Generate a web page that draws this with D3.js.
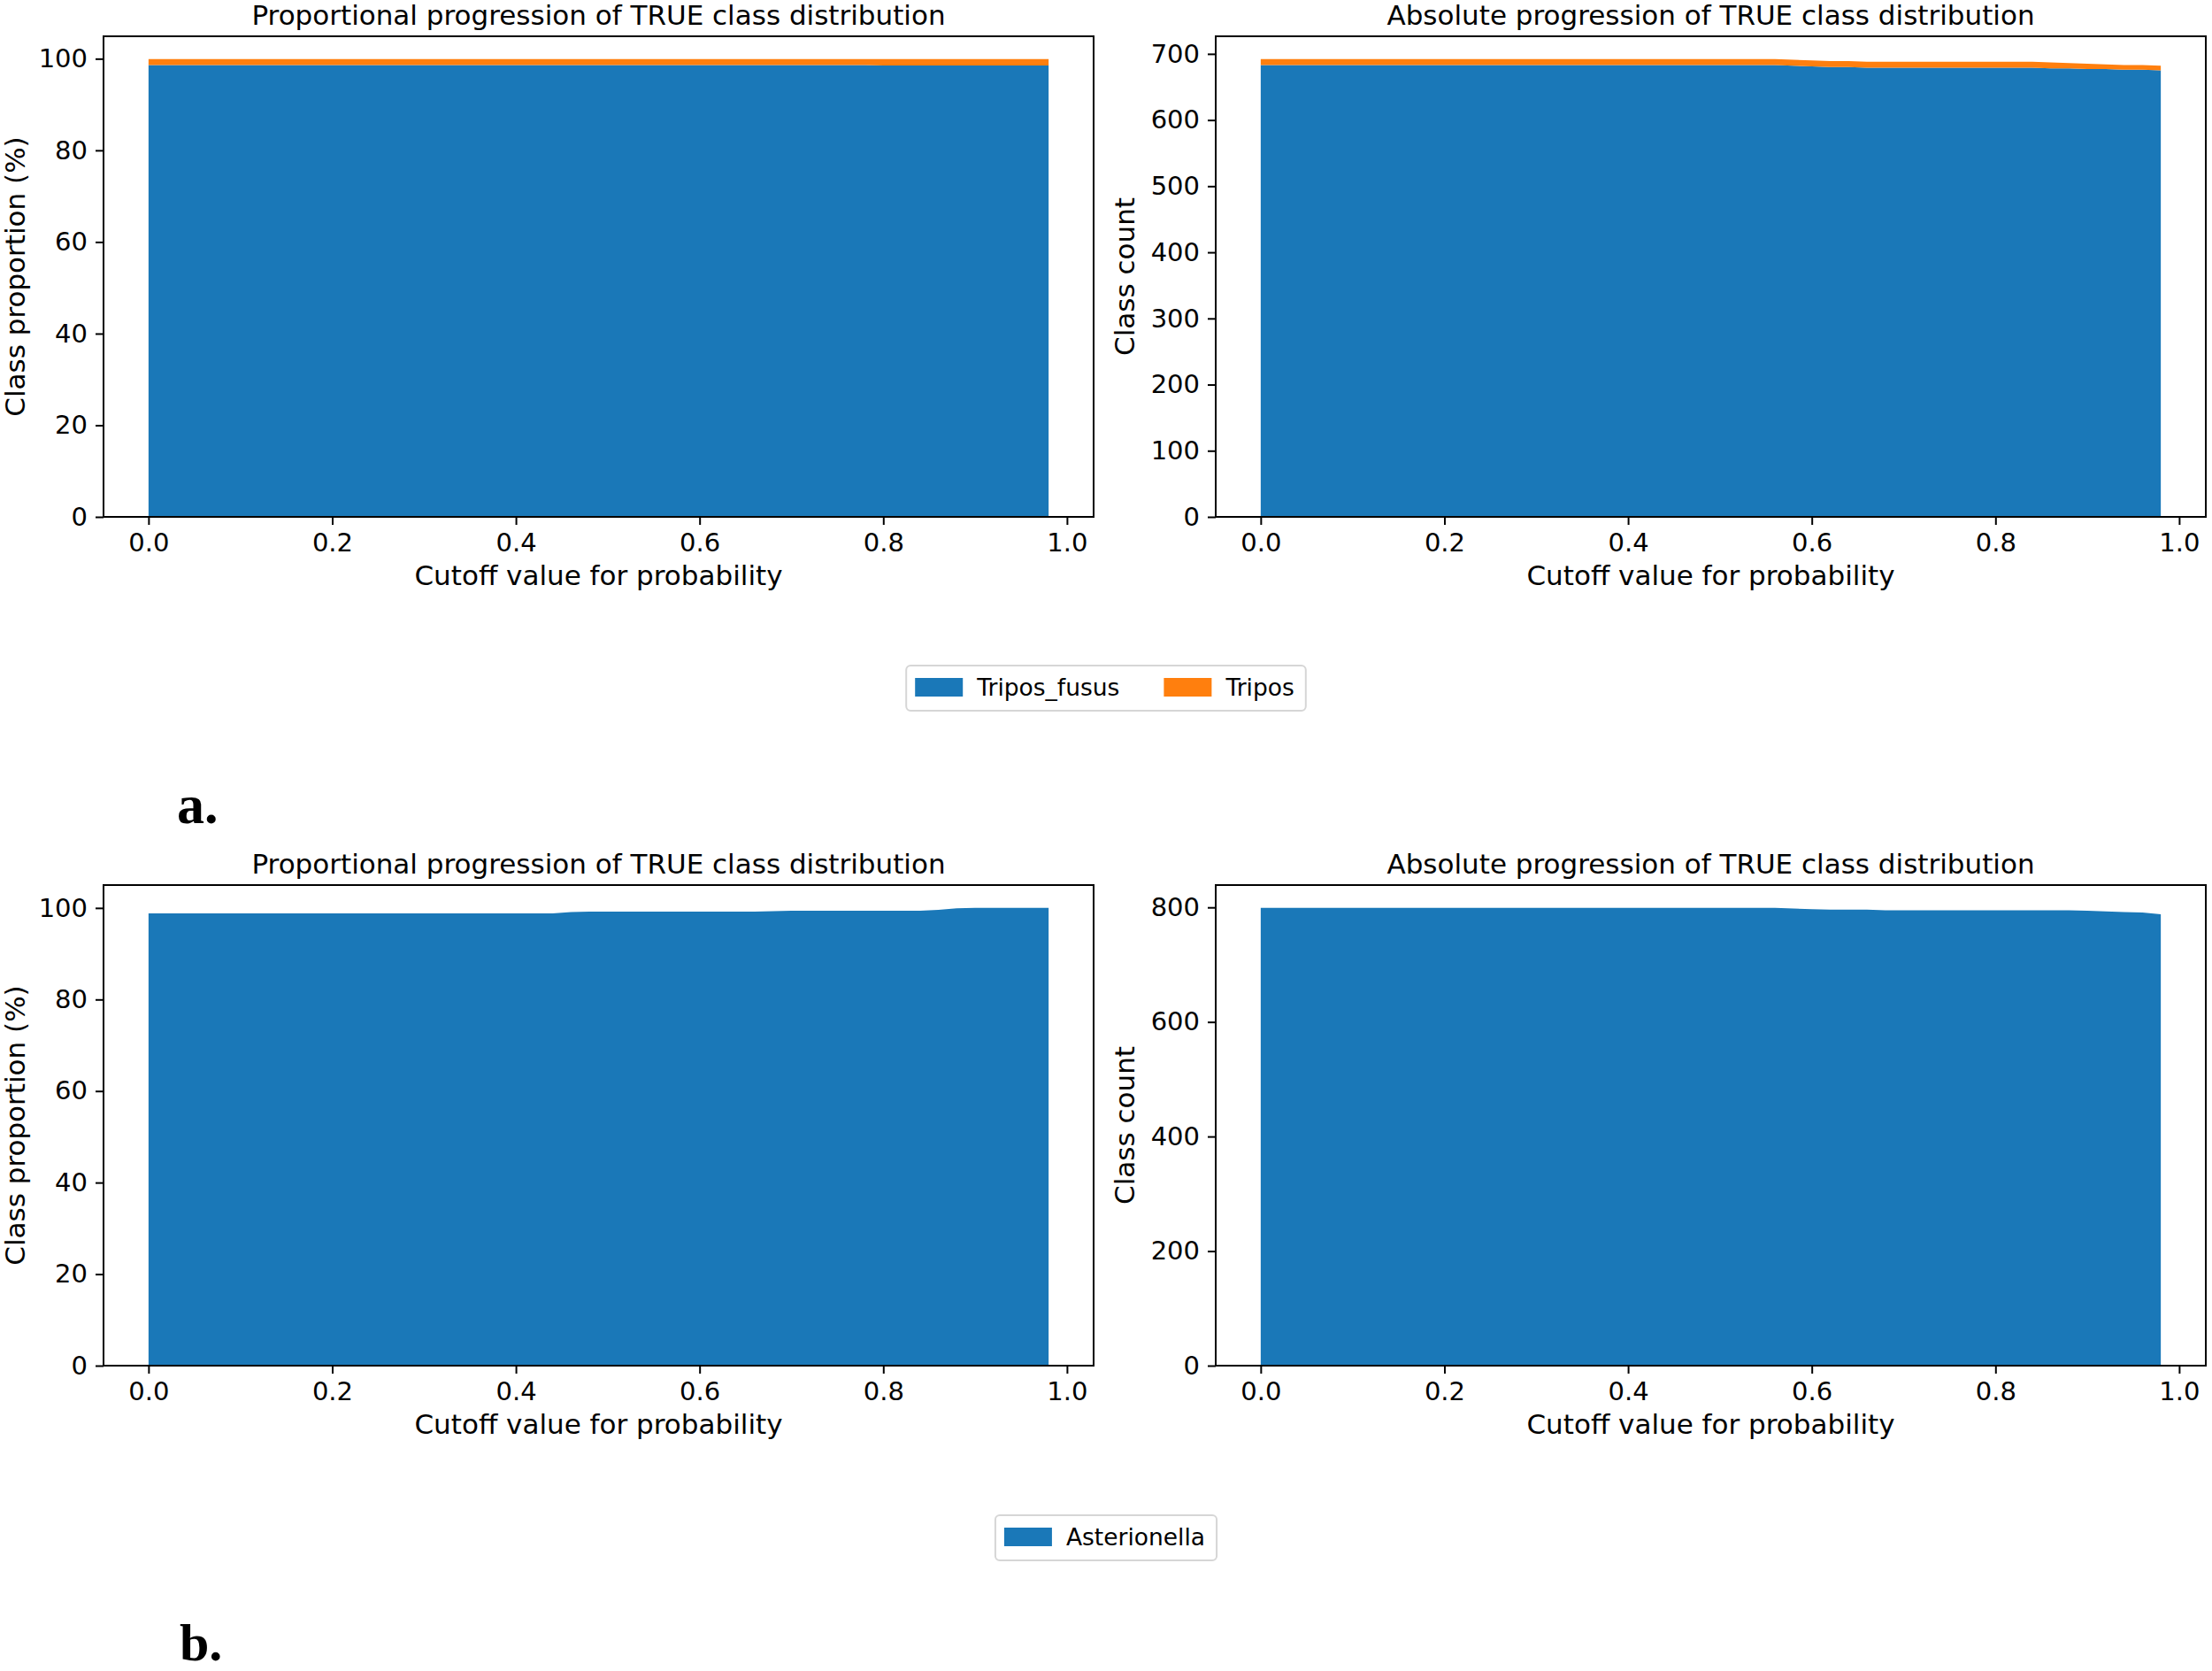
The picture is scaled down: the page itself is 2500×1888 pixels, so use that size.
<!DOCTYPE html>
<html lang="en">
  <head>
    <meta charset="utf-8">
    <title>TRUE class distribution</title>
    <script src="https://cdn.jsdelivr.net/npm/d3@7"></script>
    <style>
      body { margin: 0; background: #fff; }
      svg { display: block; }
    </style>
  </head>
  <body>
    <div id="chart"></div>

    <script type="text/javascript">
      // cutoff values on the x axis
      let cutoffs = [0.00, 0.02, 0.04, 0.06, 0.08, 0.10, 0.12, 0.14, 0.16, 0.18,
                     0.20, 0.22, 0.24, 0.26, 0.28, 0.30, 0.32, 0.34, 0.36, 0.38,
                     0.40, 0.42, 0.44, 0.46, 0.48, 0.50, 0.52, 0.54, 0.56, 0.58,
                     0.60, 0.62, 0.64, 0.66, 0.68, 0.70, 0.72, 0.74, 0.76, 0.78,
                     0.80, 0.82, 0.84, 0.86, 0.88, 0.90, 0.92, 0.94, 0.96, 0.98];

      // a. proportions (%)
      let fususPct = [98.6, 98.6, 98.6, 98.6, 98.6, 98.6, 98.6, 98.6, 98.6, 98.6,
                      98.6, 98.6, 98.6, 98.6, 98.6, 98.6, 98.6, 98.6, 98.6, 98.6,
                      98.6, 98.6, 98.6, 98.6, 98.6, 98.6, 98.6, 98.6, 98.6, 98.6,
                      98.6, 98.6, 98.6, 98.6, 98.6, 98.6, 98.6, 98.6, 98.6, 98.6,
                      98.5, 98.5, 98.5, 98.5, 98.5, 98.5, 98.5, 98.5, 98.5, 98.5];
      let triposPct = [1.3, 1.3, 1.3, 1.3, 1.3, 1.3, 1.3, 1.3, 1.3, 1.3,
                       1.3, 1.3, 1.3, 1.3, 1.3, 1.3, 1.3, 1.3, 1.3, 1.3,
                       1.3, 1.3, 1.3, 1.3, 1.3, 1.3, 1.3, 1.3, 1.3, 1.3,
                       1.3, 1.3, 1.3, 1.3, 1.3, 1.3, 1.3, 1.3, 1.3, 1.3,
                       1.4, 1.4, 1.4, 1.4, 1.4, 1.4, 1.4, 1.4, 1.4, 1.4];

      // a. counts
      let fususCount = [683, 683, 683, 683, 683, 683, 683, 683, 683, 683,
                        683, 683, 683, 683, 683, 683, 683, 683, 683, 683,
                        683, 683, 683, 683, 683, 683, 683, 683, 683, 682,
                        681, 680, 680, 679, 679, 679, 679, 679, 679, 679,
                        679, 679, 679, 678, 678, 677, 677, 676, 676, 675];
      let triposCount = [9, 9, 9, 9, 9, 9, 9, 9, 9, 9,
                         9, 9, 9, 9, 9, 9, 9, 9, 9, 9,
                         9, 9, 9, 9, 9, 9, 9, 9, 9, 9,
                         9, 9, 9, 9, 9, 9, 9, 9, 9, 9,
                         9, 9, 9, 9, 8, 8, 7, 7, 7, 7];

      // b. proportions (%) and counts
      let asterPct = [98.8, 98.8, 98.8, 98.8, 98.8, 98.8, 98.8, 98.8, 98.8, 98.8,
                      98.8, 98.8, 98.8, 98.8, 98.8, 98.8, 98.8, 98.8, 98.8, 98.8,
                      98.8, 98.8, 98.8, 99.1, 99.2, 99.2, 99.2, 99.2, 99.2, 99.2,
                      99.2, 99.2, 99.2, 99.2, 99.3, 99.4, 99.4, 99.4, 99.4, 99.4,
                      99.4, 99.4, 99.4, 99.6, 99.9, 100.0, 100.0, 100.0, 100.0, 100.0];
      let asterCount = [799, 799, 799, 799, 799, 799, 799, 799, 799, 799,
                        799, 799, 799, 799, 799, 799, 799, 799, 799, 799,
                        799, 799, 799, 799, 799, 799, 799, 799, 799, 798,
                        797, 796, 796, 796, 795, 795, 795, 795, 795, 795,
                        795, 795, 795, 795, 795, 794, 793, 792, 791, 788];

      let xTicks = [0.0, 0.2, 0.4, 0.6, 0.8, 1.0];
      let pctTicks = [0, 20, 40, 60, 80, 100];
      let countTicksA = [0, 100, 200, 300, 400, 500, 600, 700];
      let countTicksB = [0, 200, 400, 600, 800];

      let classesA = ['Tripos_fusus', 'Tripos'];
      let classesB = ['Asterionella'];
      let colors = ['#1a78b8', '#ff7f0e'];

      let width = 2500;
      let height = 1888;
      let font = "'DejaVu Sans', sans-serif";

      let svg = d3.select('#chart').append('svg')
        .attr('width', width)
        .attr('height', height)
      svg.append('rect').attr('width', width).attr('height', height).attr('fill', '#fff')

      function toRows(keys, seriesList) {
        return cutoffs.map((c, i) => {
          let row = { cutoff: c };
          keys.forEach((k, j) => { row[k] = seriesList[j][i]; });
          return row;
        });
      }

      function panel(p) {
        let w = 1119, h = 543;
        let g = svg.append('g').attr('transform', `translate(${p.left},${p.top})`)

        let rows = toRows(p.keys, p.series)
        let stacked = d3.stack().keys(p.keys)(rows)
        let top = d3.max(stacked[stacked.length - 1], (d) => d[1])

        let scale_x = d3.scaleLinear()
            .domain([-0.049, 1.029])
            .range([0, w])
        let scale_y = d3.scaleLinear()
            .domain([0, top * 1.05])
            .range([h, 0])

        let area = d3.area()
            .x((d) => scale_x(d.data.cutoff))
            .y0((d) => scale_y(d[0]))
            .y1((d) => scale_y(d[1]))

        g.selectAll('path.layer')
          .data(stacked)
          .enter()
          .append('path')
          .attr('class', 'layer')
          .attr('d', area)
          .attr('fill', (d, i) => colors[i])

        let xAxis = g.append('g')
          .attr('transform', `translate(0,${h})`)
          .call(d3.axisBottom(scale_x).tickValues(xTicks).tickFormat(d3.format('.1f'))
                  .tickSize(9).tickSizeOuter(0).tickPadding(9))
        let yAxis = g.append('g')
          .call(d3.axisLeft(scale_y).tickValues(p.yTicks).tickFormat(d3.format('d'))
                  .tickSize(9).tickSizeOuter(0).tickPadding(9))

        ;[xAxis, yAxis].forEach((a) => {
          a.select('.domain').remove()
          a.selectAll('line').attr('stroke', '#000').attr('stroke-width', 2)
          a.selectAll('text')
            .attr('fill', '#000')
            .attr('font-family', font)
            .attr('font-size', '29px')
        })

        g.append('rect')
          .attr('width', w)
          .attr('height', h)
          .attr('fill', 'none')
          .attr('stroke', '#000')
          .attr('stroke-width', 2)

        g.append('text')
          .attr('x', w / 2)
          .attr('y', -13)
          .attr('text-anchor', 'middle')
          .attr('font-family', font)
          .attr('font-size', '31px')
          .text(p.title)

        g.append('text')
          .attr('x', w / 2)
          .attr('y', h + 77)
          .attr('text-anchor', 'middle')
          .attr('font-family', font)
          .attr('font-size', '31px')
          .text('Cutoff value for probability')

        g.append('text')
          .attr('transform', `translate(${p.ylabelX},${h / 2}) rotate(-90)`)
          .attr('text-anchor', 'middle')
          .attr('dominant-baseline', 'central')
          .attr('font-family', font)
          .attr('font-size', '31px')
          .text(p.ylabel)
      }

      function legend(keys, cx, y) {
        let g = svg.append('g')
        let box = g.append('rect')
        let x = 0
        keys.forEach((k, i) => {
          g.append('rect')
            .attr('x', x)
            .attr('y', 14)
            .attr('width', 54)
            .attr('height', 21)
            .attr('fill', colors[i])
          let t = g.append('text')
            .attr('x', x + 70)
            .attr('y', 34)
            .attr('font-family', font)
            .attr('font-size', '26.5px')
            .text(k)
          x += 70 + t.node().getComputedTextLength() + 50
        })
        let inner = x - 50
        box.attr('x', -10).attr('y', 0)
          .attr('width', inner + 23).attr('height', 51)
          .attr('rx', 5)
          .attr('fill', '#fff')
          .attr('stroke', '#d6d6d6')
          .attr('stroke-width', 2)
        g.attr('transform', `translate(${cx - (inner + 23) / 2 + 10},${y})`)
      }

      panel({ left: 117, top: 41, keys: classesA, series: [fususPct, triposPct],
              yTicks: pctTicks, title: 'Proportional progression of TRUE class distribution',
              ylabel: 'Class proportion (%)', ylabelX: -100 })
      panel({ left: 1374, top: 41, keys: classesA, series: [fususCount, triposCount],
              yTicks: countTicksA, title: 'Absolute progression of TRUE class distribution',
              ylabel: 'Class count', ylabelX: -103 })
      panel({ left: 117, top: 1000, keys: classesB, series: [asterPct],
              yTicks: pctTicks, title: 'Proportional progression of TRUE class distribution',
              ylabel: 'Class proportion (%)', ylabelX: -100 })
      panel({ left: 1374, top: 1000, keys: classesB, series: [asterCount],
              yTicks: countTicksB, title: 'Absolute progression of TRUE class distribution',
              ylabel: 'Class count', ylabelX: -103 })

      legend(classesA, 1250, 752)
      legend(classesB, 1250, 1712)

      svg.append('text')
        .attr('x', 200).attr('y', 930)
        .attr('font-family', "'Liberation Serif', serif")
        .attr('font-weight', 'bold')
        .attr('font-size', '62px')
        .text('a.')
      svg.append('text')
        .attr('x', 203).attr('y', 1876)
        .attr('font-family', "'Liberation Serif', serif")
        .attr('font-weight', 'bold')
        .attr('font-size', '60px')
        .text('b.')
    </script>
  </body>
</html>
